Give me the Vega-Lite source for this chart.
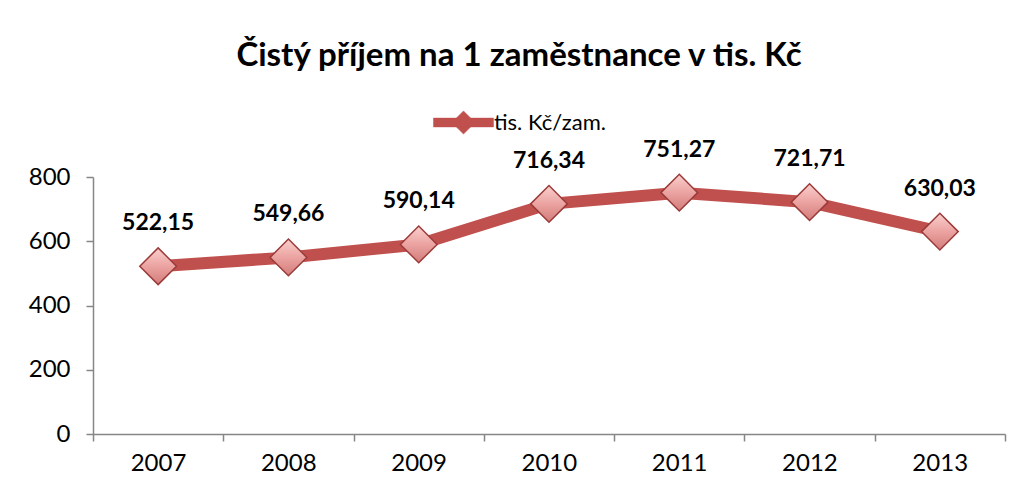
{
  "$schema": "https://vega.github.io/schema/vega-lite/v6.json",
  "width": 912,
  "height": 257,
  "autosize": {"type": "none"},
  "padding": {"left": 93, "top": 177, "right": 16, "bottom": 59},
  "background": "white",
  "config": {
    "font": "Lato",
    "view": {"stroke": null},
    "locale": {"number": {"decimal": ",", "thousands": " ", "grouping": [3], "currency": ["", " Kč"]}}
  },
  "title": {
    "text": "Čistý příjem na 1 zaměstnance v tis. Kč",
    "font": "Lato",
    "fontSize": 33,
    "fontWeight": "bold",
    "color": "#000000",
    "anchor": "middle",
    "dx": -30,
    "orient": "top",
    "offset": 29
  },
  "data": {
    "values": [
      {"year": 2007, "value": 522.15, "series": "tis. Kč/zam."},
      {"year": 2008, "value": 549.66, "series": "tis. Kč/zam."},
      {"year": 2009, "value": 590.14, "series": "tis. Kč/zam."},
      {"year": 2010, "value": 716.34, "series": "tis. Kč/zam."},
      {"year": 2011, "value": 751.27, "series": "tis. Kč/zam."},
      {"year": 2012, "value": 721.71, "series": "tis. Kč/zam."},
      {"year": 2013, "value": 630.03, "series": "tis. Kč/zam."}
    ]
  },
  "encoding": {
    "x": {
      "field": "year",
      "type": "quantitative",
      "scale": {"domain": [2006.5, 2013.5], "nice": false, "zero": false},
      "axis": {
        "title": null,
        "values": [2006.5, 2007.5, 2008.5, 2009.5, 2010.5, 2011.5, 2012.5, 2013.5],
        "labelExpr": "datum.value > 2013 ? '' : format(datum.value + 0.5, 'd')",
        "labelOffset": 65,
        "labelFont": "Lato",
        "labelFontSize": 24,
        "labelColor": "#000000",
        "labelPadding": 10,
        "labelFlush": false,
        "labelOverlap": false,
        "grid": false,
        "domainColor": "#868686",
        "tickColor": "#868686",
        "tickSize": 7,
        "domainWidth": 1.5,
        "tickWidth": 1.5
      }
    },
    "y": {
      "field": "value",
      "type": "quantitative",
      "scale": {"domain": [0, 800], "nice": false},
      "axis": {
        "title": null,
        "values": [0, 200, 400, 600, 800],
        "labelFont": "Lato",
        "labelFontSize": 24,
        "labelColor": "#000000",
        "labelPadding": 16,
        "grid": false,
        "domainColor": "#868686",
        "tickColor": "#868686",
        "tickSize": 7,
        "domainWidth": 1.5,
        "tickWidth": 1.5
      }
    }
  },
  "layer": [
    {
      "mark": {"type": "line", "strokeWidth": 12, "strokeJoin": "round", "strokeCap": "round"},
      "encoding": {
        "color": {
          "field": "series",
          "type": "nominal",
          "scale": {"range": ["#C0504D"]},
          "legend": {
            "title": null,
            "orient": "none",
            "legendX": 350,
            "legendY": -75,
            "symbolType": "M -1.5 -0.22 L 1.5 -0.22 L 1.5 0.22 L -1.5 0.22 Z M 0 -0.58 L 0.58 0 L 0 0.58 L -0.58 0 Z",
            "symbolSize": 1600,
            "labelFont": "Lato",
            "labelFontSize": 22,
            "labelColor": "#000000",
            "labelOffset": 10,
            "encode": {
              "symbols": {"update": {"fill": {"value": "#C0504D"}, "stroke": {"value": "#A04240"}, "strokeWidth": {"value": 0.5}, "opacity": {"value": 1}}}
            }
          }
        }
      }
    },
    {
      "mark": {
        "type": "point",
        "shape": "diamond",
        "size": 1350,
        "filled": true,
        "opacity": 1,
        "stroke": "#9B3B39",
        "strokeWidth": 1.5,
        "fill": {
          "gradient": "linear",
          "x1": 0, "y1": 0, "x2": 0, "y2": 1,
          "stops": [
            {"offset": 0, "color": "#F9CFCD"},
            {"offset": 0.5, "color": "#EBA3A1"},
            {"offset": 1, "color": "#D27C7A"}
          ]
        }
      }
    },
    {
      "mark": {
        "type": "text",
        "font": "Lato",
        "fontSize": 23,
        "fontWeight": "bold",
        "color": "#000000",
        "baseline": "middle",
        "align": "center",
        "dy": -43
      },
      "encoding": {
        "text": {"field": "value", "type": "quantitative", "format": ".2f"}
      }
    }
  ]
}
